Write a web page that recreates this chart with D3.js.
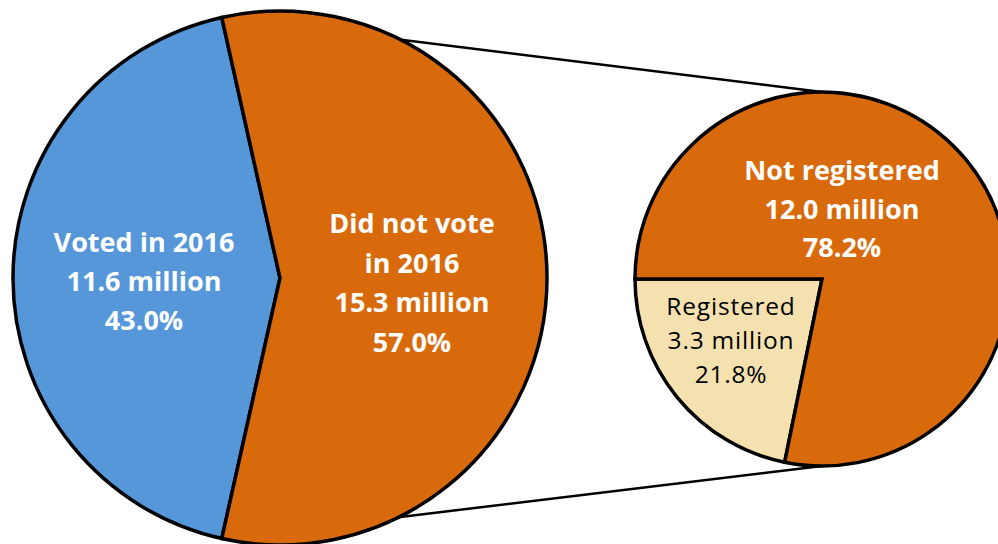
<!DOCTYPE html>
<html>
<head>
<meta charset="utf-8">
<script src="https://cdn.jsdelivr.net/npm/d3@7"></script>
<style>
  html, body { margin: 0; padding: 0; background: #ffffff; }
  #chart { width: 998px; height: 544px; overflow: hidden; }
  text { font-family: "Open Sans", "Noto Sans", sans-serif; }
</style>
</head>
<body>
<div id="chart"></div>
<script>
// Main pie: 2016 voting
const mainCategories = ['Voted in 2016', 'Did not vote in 2016'];
const mainMillions = [11.6, 15.3];
const mainPercents = [43.0, 57.0];

// Secondary pie: breakdown of non-voters
const subCategories = ['Registered', 'Not registered'];
const subMillions = [3.3, 12.0];
const subPercents = [21.8, 78.2];

const width = 998, height = 544;
const svg = d3.select('#chart').append('svg')
  .attr('width', width)
  .attr('height', height);

const mainColor = d3.scaleOrdinal().domain(mainCategories).range(['#5597d9', '#d96a0c']);
const subColor = d3.scaleOrdinal().domain(subCategories).range(['#f5e1b0', '#d96a0c']);

// Main pie, first slice centred on the left side
const big = { cx: 280, cy: 278, r: 267 };
const firstShare = mainPercents[0] / d3.sum(mainPercents) * 2 * Math.PI;
const mainPie = d3.pie().sort(null).value(d => d.pct)
  .startAngle(-Math.PI / 2 - firstShare / 2)
  .endAngle(-Math.PI / 2 - firstShare / 2 + 2 * Math.PI);
const mainArcs = mainPie(mainCategories.map((c, i) => ({ cat: c, val: mainMillions[i], pct: mainPercents[i] })));

// Small pie, first slice ends at 9 o'clock
const small = { cx: 822, cy: 279, r: 187 };
const subShare = subPercents[0] / d3.sum(subPercents) * 2 * Math.PI;
const subPie = d3.pie().sort(null).value(d => d.pct)
  .startAngle(-Math.PI / 2 - subShare)
  .endAngle(-Math.PI / 2 - subShare + 2 * Math.PI);
const subArcs = subPie(subCategories.map((c, i) => ({ cat: c, val: subMillions[i], pct: subPercents[i] })));

const pt = (c, a) => [c.cx + c.r * Math.sin(a), c.cy - c.r * Math.cos(a)];

// Connector lines: split edges of the big pie to top / bottom of the small one
const blue = mainArcs[0];
const links = [
  [pt(big, blue.endAngle), pt(small, 0)],
  [pt(big, blue.startAngle), pt(small, Math.PI)]
];
svg.selectAll('line.link')
  .data(links)
  .join('line')
    .attr('class', 'link')
    .attr('x1', d => d[0][0]).attr('y1', d => d[0][1])
    .attr('x2', d => d[1][0]).attr('y2', d => d[1][1])
    .attr('stroke', '#000')
    .attr('stroke-width', 2.5);

// Draw big pie
const bigG = svg.append('g').attr('transform', `translate(${big.cx},${big.cy})`);
bigG.selectAll('path')
  .data(mainArcs)
  .join('path')
    .attr('d', d3.arc().innerRadius(0).outerRadius(big.r))
    .attr('fill', d => mainColor(d.data.cat))
    .attr('stroke', '#000')
    .attr('stroke-width', 3.5)
    .attr('stroke-linejoin', 'miter');

// Draw small pie
const smallG = svg.append('g').attr('transform', `translate(${small.cx},${small.cy})`);
smallG.selectAll('path')
  .data(subArcs)
  .join('path')
    .attr('d', d3.arc().innerRadius(0).outerRadius(small.r))
    .attr('fill', d => subColor(d.data.cat))
    .attr('stroke', '#000')
    .attr('stroke-width', 3.5)
    .attr('stroke-linejoin', 'miter');

// Labels
function label(g, x, y, lines, opts) {
  const t = g.append('text')
    .attr('text-anchor', 'middle')
    .attr('fill', opts.fill)
    .style('font-size', opts.size + 'px')
    .style('font-weight', opts.weight)
    .style('letter-spacing', (opts.ls || 0) + 'px');
  lines.forEach((s, i) => {
    t.append('tspan').attr('x', x).attr('y', y + i * opts.lh).text(s);
  });
}

const fmtPct = d => d.toFixed(1) + '%';
const fmtMil = d => d.toFixed(1) + ' million';

label(bigG, -136, 252 - big.cy, [mainCategories[0], fmtMil(mainMillions[0]), fmtPct(mainPercents[0])],
  { fill: '#fff', size: 27, weight: 700, lh: 39 });
label(bigG, 132, 233 - big.cy, ['Did not vote', 'in 2016', fmtMil(mainMillions[1]), fmtPct(mainPercents[1])],
  { fill: '#fff', size: 27, weight: 700, lh: 39.5 });
label(smallG, 842 - small.cx, 180 - small.cy, [subCategories[1], fmtMil(subMillions[1]), fmtPct(subPercents[1])],
  { fill: '#fff', size: 27, weight: 700, lh: 38.5 });
label(smallG, 731 - small.cx, 315 - small.cy, [subCategories[0], fmtMil(subMillions[0]), fmtPct(subPercents[0])],
  { fill: '#000', size: 24.5, weight: 400, lh: 34, ls: 0.8 });
</script>
</body>
</html>
